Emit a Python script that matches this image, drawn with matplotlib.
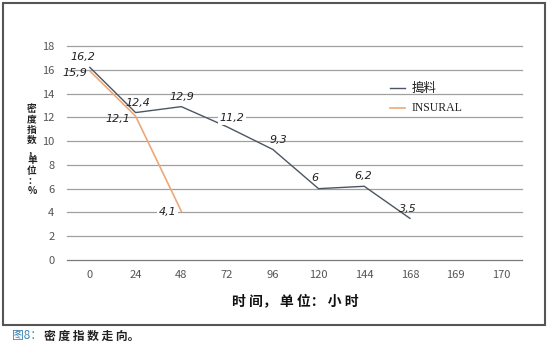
import matplotlib
matplotlib.use("Agg")
import matplotlib.pyplot as plt
from matplotlib.patches import Rectangle

plt.rcParams['font.family'] = ['Noto Sans CJK SC', 'DejaVu Sans']

categories = ["0", "24", "48", "72", "96", "120", "144", "168", "169", "170"]
series1_name = "搗料"
series1 = [16.2, 12.4, 12.9, 11.2, 9.3, 6, 6.2, 3.5]
series2_name = "INSURAL"
series2 = [15.9, 12.1, 4.1]
yticks = [0, 2, 4, 6, 8, 10, 12, 14, 16, 18]
ylabel_chars = ["密", "度", "指", "数", "，", "单", "位", "：", "%"]

# label offsets in pixels (dx, dy) and whether label has white background
off1 = [(-7, 10), (2, 10), (1, 10), (5, 9), (6, 9), (-4, 11), (-1, 10), (-2, 9)]
bg1 = [False, False, False, True, False, False, False, False]
off2 = [(-15, -2), (-18, -3), (-14, -1)]
bg2 = [False, False, True]

W, H = 550, 354
fig = plt.figure(figsize=(W / 100, H / 100), dpi=100)
fig.patch.set_facecolor('white')

def fx(px):
    return px / W

def fy(py):
    return 1 - py / H

ax = fig.add_axes([fx(67), fy(260), fx(522) - fx(67), fy(46) - fy(260)])
ax.set_xlim(-0.5, 9.45)
ax.set_ylim(0, 18)
for s in ax.spines.values():
    s.set_visible(False)
ax.set_yticks(yticks)
ax.set_xticks(range(len(categories)))
ax.set_xticklabels(categories)
ax.tick_params(length=0, labelsize=8, labelcolor='#555555')
ax.tick_params(axis='y', pad=9)
ax.tick_params(axis='x', pad=7)
for t in ax.get_xticklabels() + ax.get_yticklabels():
    t.set_fontstyle('italic')
for yv in yticks:
    ax.axhline(yv, color='#a0a0a0' if yv else '#7a7a7a', linewidth=0.9,
               clip_on=False, zorder=1)

c1 = '#4b5662'
c2 = '#eda878'
x1 = list(range(len(series1)))
x2 = list(range(len(series2)))
ax.plot(x1, series1, color=c1, linewidth=1.0, zorder=3)
ax.plot(x2, series2, color=c2, linewidth=1.2, zorder=4)

def fmt(v):
    return ("%g" % v).replace('.', ',')

for xs, ys, offs, bgs in ((x1, series1, off1, bg1), (x2, series2, off2, bg2)):
    for xi, v, (dx, dy), bg in zip(xs, ys, offs, bgs):
        kw = {}
        if bg:
            kw['bbox'] = dict(boxstyle='square,pad=0.15', fc='white', ec='none')
        ax.annotate(fmt(v), (xi, v), xytext=(dx, dy), textcoords='offset pixels',
                    ha='center', va='center', fontsize=8, fontstyle='italic',
                    color='#222222', family='DejaVu Sans', zorder=5, **kw)

# legend (manual, figure coordinates)
fig.add_artist(plt.Line2D([fx(390), fx(405)], [fy(88), fy(88)], color=c1, linewidth=1.0))
fig.add_artist(plt.Line2D([fx(390), fx(405)], [fy(108), fy(108)], color=c2, linewidth=1.2))
fig.text(fx(412), fy(88), series1_name, ha='left', va='center', fontsize=9,
         color='#222222')
fig.text(fx(412), fy(108), series2_name, ha='left', va='center', fontsize=8.5,
         color='#222222', family='Liberation Serif')

# y-axis label (stacked characters)
for i, ch in enumerate(ylabel_chars):
    fig.text(fx(32), fy(109 + 10.3 * i), ch, ha='center', va='center', fontsize=7,
             color='#222222', fontweight='bold')

# x-axis title
fig.text(fx(295), fy(301), "时 间， 单 位： 小 时", ha='center', va='center',
         fontsize=10, color='#111111', fontweight='bold')

# frame
fig.add_artist(Rectangle((fx(3), fy(325)), fx(545) - fx(3), fy(3) - fy(325),
                         transform=fig.transFigure, fill=False,
                         edgecolor='#555555', linewidth=1.5))

# caption
t1 = fig.text(fx(12), fy(336), "图8：", ha='left', va='center', fontsize=8.5,
              color='#3f86b0')
fig.canvas.draw()
bb = t1.get_window_extent()
fig.text(bb.x1 / W + 0.004, fy(336), "密 度 指 数 走 向。", ha='left', va='center',
         fontsize=8.5, color='#222222', fontweight='bold')

fig.savefig('out.png', dpi=100, facecolor='white')
